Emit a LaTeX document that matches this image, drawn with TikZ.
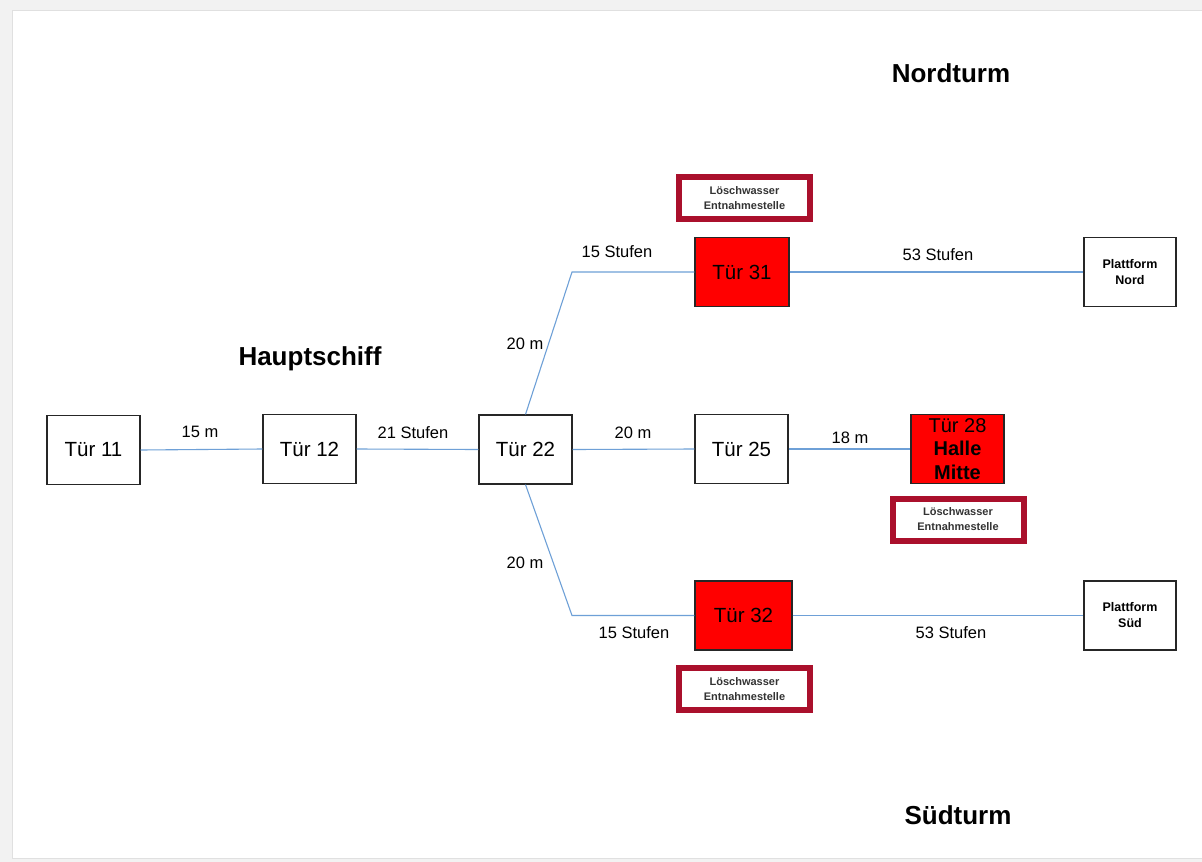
\documentclass[tikz,border=0pt]{standalone}
\usepackage{fontspec}
\setmainfont{Liberation Sans}
\begin{document}
\begin{tikzpicture}[x=1pt,y=-1pt,
  door/.style={draw=black!85,line width=1.2pt,minimum width=93pt,minimum height=69pt,inner sep=0pt,font=\fontsize{20.5}{22}\selectfont,align=center},
  reddoor/.style={door,fill=red},
  platf/.style={door,minimum width=92pt,font=\bfseries\fontsize{12.5}{16}\selectfont},
  water/.style={draw={rgb,255:red,170;green,16;blue,44},line width=6pt,fill=white,minimum width=131pt,minimum height=42pt,inner sep=0pt,align=center,font=\bfseries\fontsize{11}{15}\selectfont,text=black!80},
  path/.style={draw={rgb,255:red,110;green,160;blue,215},line width=1.1pt},
  lbl/.style={font=\fontsize{16.5}{18}\selectfont},
  head/.style={font=\bfseries\fontsize{26}{28}\selectfont}]
\useasboundingbox (0,0) rectangle (1202,862);
\fill[black!5] (0,0) rectangle (1202,862);
\fill[white,draw=black!12,line width=1pt] (12,10) rectangle (1210,858);
\node[door] (t11) at (93.5,450) {Tür 11};
\node[door] (t12) at (309.5,449) {Tür 12};
\node[door] (t22) at (525.5,449.5) {Tür 22};
\node[door] (t25) at (741.5,449) {Tür 25};
\node[reddoor,font=\fontsize{20}{23.5}\selectfont] (t28) at (957.5,449) {Tür 28\\\textbf{Halle}\\\textbf{Mitte}};
\node[reddoor,minimum width=94pt] (t31) at (742,272) {Tür 31};
\node[reddoor,minimum width=97pt] (t32) at (743.5,615.5) {Tür 32};
\node[platf] (pn) at (1130,272) {Plattform\\Nord};
\node[platf] (ps) at (1130,615.5) {Plattform\\Süd};
\node[water] (w1) at (744.5,198) {Löschwasser\\Entnahmestelle};
\node[water] (w2) at (958,519.5) {Löschwasser\\Entnahmestelle};
\node[water] (w3) at (744.5,689) {Löschwasser\\Entnahmestelle};
\coordinate (kn) at (572,272);
\coordinate (ks) at (572,615.5);
\draw[path] (t11.east) -- (t12.west);
\draw[path] (t12.east) -- (t22.west);
\draw[path] (t22.east) -- (t25.west);
\draw[path] (t25.east) -- (t28.west);
\draw[path] (t22.north) -- (kn) -- (t31.west);
\draw[path] (t22.south) -- (ks) -- (t32.west);
\draw[path] (t31.east) -- (pn.west);
\draw[path] (t32.east) -- (ps.west);
\node[lbl] (l1) at (200,432) {15 m};
\node[lbl] (l2) at (413,433) {21 Stufen};
\node[lbl] (l3) at (633,433) {20 m};
\node[lbl] (l4) at (850,438) {18 m};
\node[lbl] (l5) at (617,252) {15 Stufen};
\node[lbl] (l6) at (938,255) {53 Stufen};
\node[lbl] (l7) at (525,344) {20 m};
\node[lbl] (l8) at (525,563) {20 m};
\node[lbl] (l9) at (634,633) {15 Stufen};
\node[lbl] (l10) at (951,633) {53 Stufen};
\node[head] (h1) at (310,359) {Hauptschiff};
\node[head] (h2) at (951,73) {Nordturm};
\node[head] (h3) at (958,815) {Südturm};
\end{tikzpicture}
\end{document}
